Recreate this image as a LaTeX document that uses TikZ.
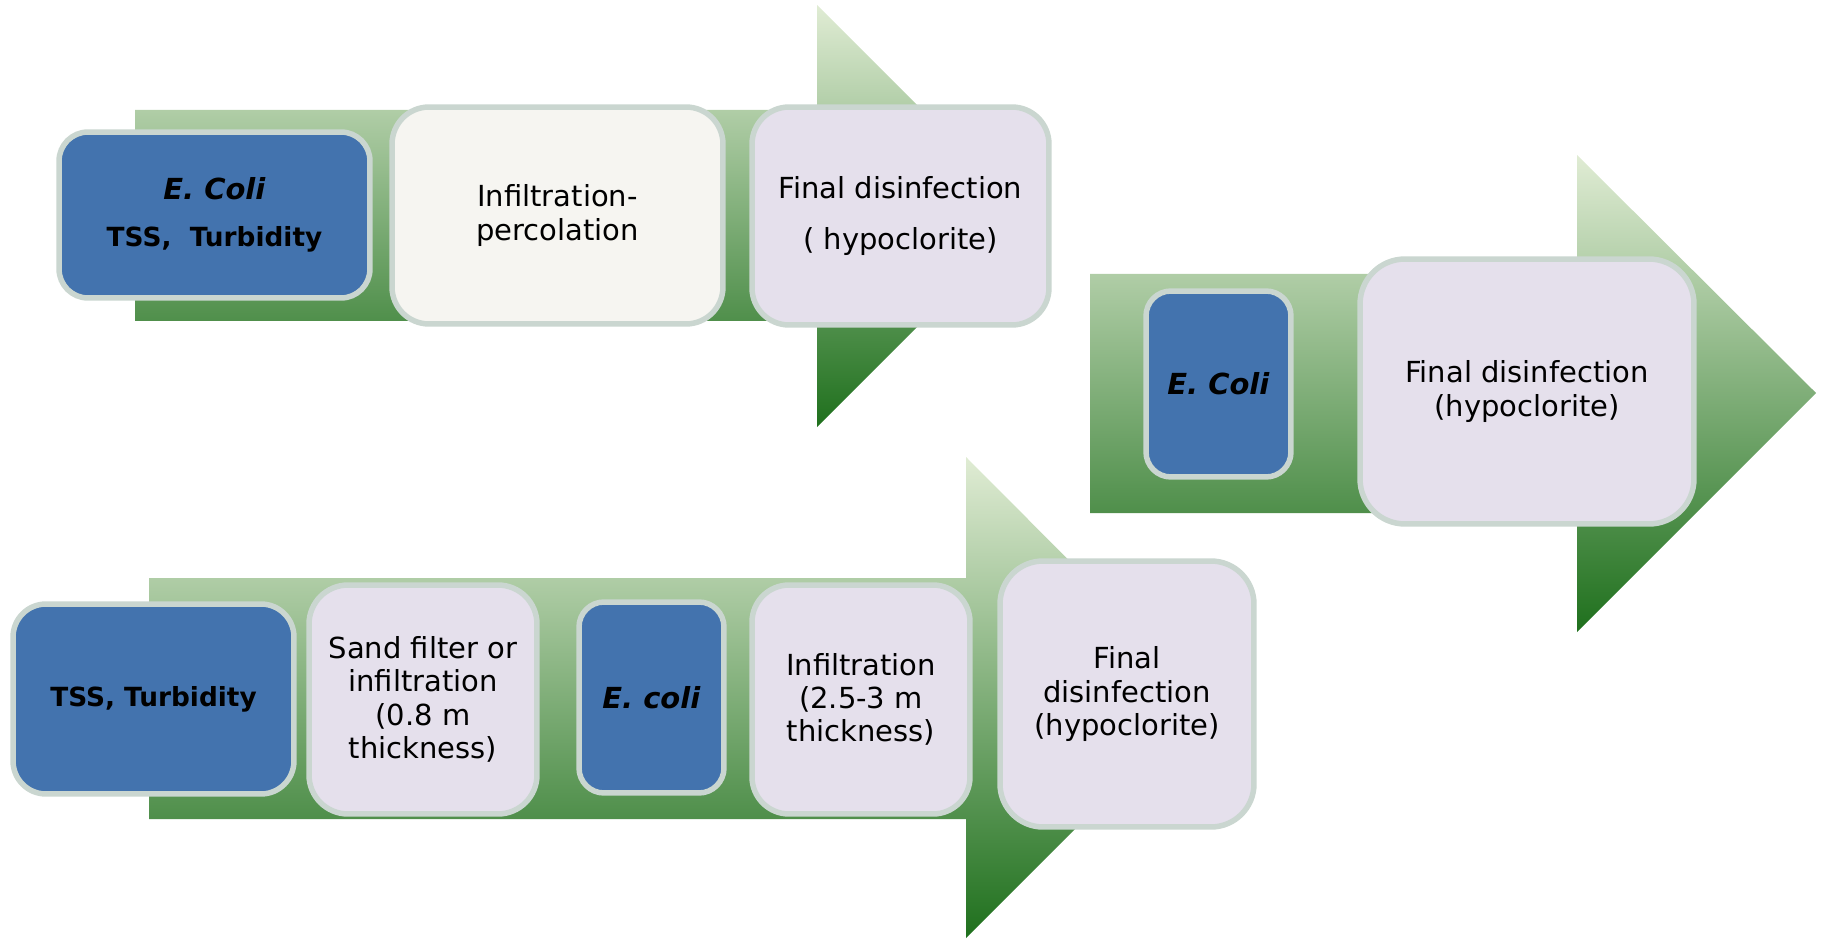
\documentclass[tikz,border=0pt]{standalone}
\usepackage{fontspec}
\setmainfont{DejaVu Sans}
\usetikzlibrary{shapes.misc}

\definecolor{boxblue}{HTML}{4373AE}
\definecolor{boxlav}{HTML}{E5E0EC}
\definecolor{boxpale}{HTML}{F6F5F1}
\definecolor{boxrim}{HTML}{CAD6D0}
\definecolor{arrtop}{HTML}{E0ECD4}
\definecolor{arrmid}{HTML}{A1C184}
\definecolor{arrbot}{HTML}{1F701D}

\tikzset{
  stepbox/.style={draw=boxrim, line width=0.11cm, rounded corners=#1, align=center,
                  inner sep=0pt, font=\fontsize{16.5}{19}\selectfont},
  bluebox/.style={stepbox=#1, fill=boxblue},
  lavbox/.style={stepbox=#1, fill=boxlav},
  palebox/.style={stepbox=#1, fill=boxpale},
  bigarrow/.style={top color=arrtop, middle color=arrmid, bottom color=arrbot}
}
\newcommand{\tssfont}{\fontsize{15}{19}\selectfont\bfseries}

\begin{document}
\begin{tikzpicture}[x=0.02cm, y=-0.02cm]
\useasboundingbox (0,0) rectangle (1823,939);

% the three arrows
\shade [bigarrow] (135,110) -- (817,110) -- (817,5) -- (1028,216) -- (817,427) -- (817,321) -- (135,321) -- cycle;
\shade [bigarrow] (1090,274) -- (1577,274) -- (1577,155) -- (1816,393) -- (1577,632) -- (1577,513) -- (1090,513) -- cycle;
\shade [bigarrow] (149,578) -- (966,578) -- (966,457) -- (1206,698) -- (966,938) -- (966,819) -- (149,819) -- cycle;

% top row
\node [bluebox=0.58cm, minimum width=6.22cm, minimum height=3.32cm] (ecoliA) at (214.5,215)
  {\textbf{\textit{E. Coli}}\\[0.26cm]{\tssfont TSS,\ \ Turbidity}};
\node [palebox=0.74cm, minimum width=6.62cm, minimum height=4.34cm] (infperc) at (557.5,215.5)
  {Infiltration-\\percolation};
\node [lavbox=0.74cm, minimum width=5.94cm, minimum height=4.36cm] (finalA) at (900.5,216)
  {Final disinfection\\[0.35cm]( hypoclorite)};

% right row
\node [bluebox=0.5cm, minimum width=2.9cm, minimum height=3.72cm] (ecoliB) at (1218.5,384)
  {\textbf{\textit{E. Coli}}};
\node [lavbox=0.9cm, minimum width=6.68cm, minimum height=5.3cm] (finalB) at (1527,391.5)
  {Final disinfection\\(hypoclorite)};

% bottom row
\node [bluebox=0.66cm, minimum width=5.62cm, minimum height=3.8cm] (tssB) at (153.5,699)
  {{\tssfont TSS, Turbidity}};
\node [lavbox=0.78cm, minimum width=4.56cm, minimum height=4.58cm] (sandf) at (423,699.5)
  {Sand filter or\\infiltration\\(0.8 m\\thickness)};
\node [bluebox=0.5cm, minimum width=2.9cm, minimum height=3.82cm] (ecoliC) at (651.5,697.5)
  {\textbf{\textit{E. coli}}};
\node [lavbox=0.74cm, minimum width=4.36cm, minimum height=4.58cm] (infthick) at (861,699.5)
  {Infiltration\\(2.5-3 m\\thickness)};
\node [lavbox=0.86cm, minimum width=5.08cm, minimum height=5.32cm] (finalC) at (1127,694)
  {Final\\disinfection\\(hypoclorite)};
\end{tikzpicture}
\end{document}
